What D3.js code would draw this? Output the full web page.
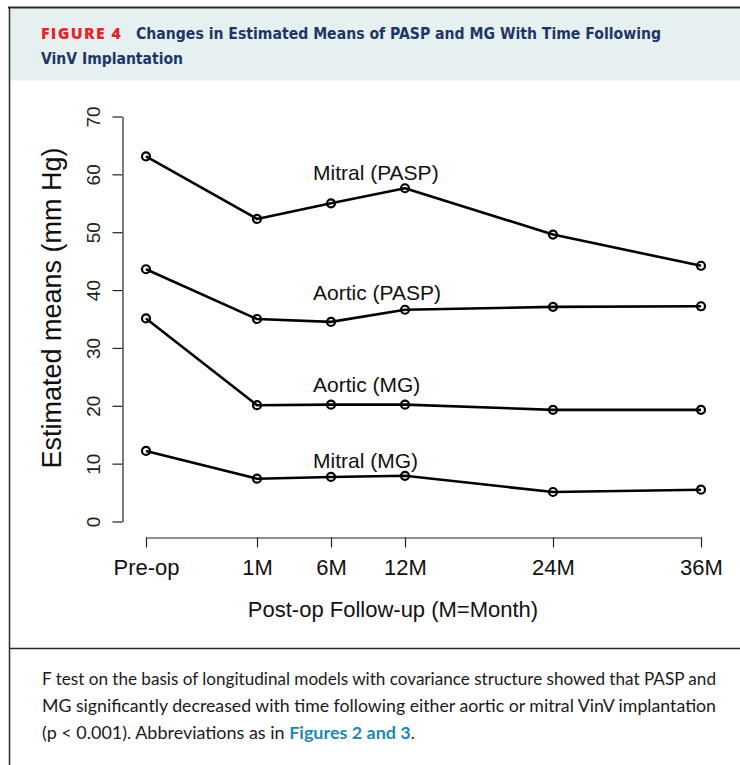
<!DOCTYPE html>
<html><head><meta charset="utf-8">
<script src="https://cdn.jsdelivr.net/npm/d3@7"></script>
<style>body{margin:0;background:#fff}</style>
</head><body><svg id="c" width="740" height="765"></svg>
<script>
// ---- data ----
const timeLabels = ["Pre-op", "1M", "6M", "12M", "24M", "36M"];
const timeUnits = [0, 1.5, 2.5, 3.5, 5.5, 7.5];
const mitralPASP = [63.1, 52.3, 55.0, 57.6, 49.6, 44.2];
const aorticPASP = [43.6, 35.0, 34.5, 36.6, 37.1, 37.2];
const aorticMG = [35.1, 20.1, 20.2, 20.2, 19.3, 19.3];
const mitralMG = [12.2, 7.4, 7.7, 7.9, 5.1, 5.5];
const seriesNames = ["Mitral (PASP)", "Aortic (PASP)", "Aortic (MG)", "Mitral (MG)"];
const seriesLabelValue = [60.4, 39.5, 23.6, 10.5];
const yTicks = [0, 10, 20, 30, 40, 50, 60, 70];
const figureTag = "FIGURE 4";
const titleLines = ["Changes in Estimated Means of PASP and MG With Time Following", "VinV Implantation"];
const yTitle = "Estimated means (mm Hg)";
const xTitle = "Post-op Follow-up (M=Month)";
const captionLines = [
  "F test on the basis of longitudinal models with covariance structure showed that PASP and",
  "MG significantly decreased with time following either aortic or mitral VinV implantation"
];
const captionLast = ["(p < 0.001). Abbreviations as in ", "Figures 2 and 3", "."];

const series = [mitralPASP, aorticPASP, aorticMG, mitralMG];

const svg = d3.select("#c");

// ---- frame ----
svg.append("rect").attr("x", 10).attr("y", 8.5).attr("width", 730).attr("height", 72).attr("fill", "#e7f0f0");
svg.append("line").attr("x1", 8).attr("x2", 740).attr("y1", 7.5).attr("y2", 7.5).attr("stroke", "#2a2a2a").attr("stroke-width", 2);
svg.append("line").attr("x1", 9.5).attr("x2", 9.5).attr("y1", 7).attr("y2", 765).attr("stroke", "#2a2a2a").attr("stroke-width", 1.5);
svg.append("line").attr("x1", 9).attr("x2", 740).attr("y1", 648.5).attr("y2", 648.5).attr("stroke", "#2a2a2a").attr("stroke-width", 1.5);

// header
svg.append("text").attr("x", 41).attr("y", 39).text(figureTag)
  .attr("font-family", "'Open Sans', Lato, sans-serif").attr("font-weight", 800).attr("font-size", 15)
  .attr("letter-spacing", 1.3).attr("fill", "#e0282e")
  .attr("textLength", 81).attr("lengthAdjust", "spacingAndGlyphs");
svg.append("text").attr("x", 136).attr("y", 39).text(titleLines[0])
  .attr("font-family", "'Liberation Sans Narrow', 'DejaVu Sans Condensed', 'Open Sans', sans-serif").attr("font-weight", 700).attr("font-size", 16)
  .attr("fill", "#1b3766").attr("textLength", 525).attr("lengthAdjust", "spacingAndGlyphs");
svg.append("text").attr("x", 41).attr("y", 64).text(titleLines[1])
  .attr("font-family", "'Liberation Sans Narrow', 'DejaVu Sans Condensed', 'Open Sans', sans-serif").attr("font-weight", 700).attr("font-size", 16)
  .attr("fill", "#1b3766").attr("textLength", 142).attr("lengthAdjust", "spacingAndGlyphs");

// ---- scales ----
const x = d3.scaleLinear().domain([0, 7.5]).range([146, 701]);
const y = d3.scaleLinear().domain([0, 70]).range([521.5, 116.5]);
const chartFont = "'Liberation Sans', Arial, Helvetica, sans-serif";

// y axis
const gy = svg.append("g").attr("transform", "translate(122.5,0)")
  .call(d3.axisLeft(y).tickValues(yTicks).tickSize(10).tickSizeOuter(0).tickFormat(d3.format("d")));
gy.select(".domain").attr("stroke", "#222").attr("stroke-width", 1.2);
gy.selectAll(".tick line").attr("stroke", "#222").attr("stroke-width", 1.2);
gy.selectAll(".tick text")
  .attr("transform", "rotate(-90)").attr("x", 0).attr("y", -23).attr("dy", 0)
  .attr("text-anchor", "middle").attr("font-family", chartFont).attr("font-size", 19).attr("fill", "#222");

// x axis
const gx = svg.append("g").attr("transform", "translate(0,537.5)")
  .call(d3.axisBottom(x).tickValues(timeUnits).tickSize(10).tickSizeOuter(0)
    .tickFormat((d, i) => timeLabels[i]));
gx.select(".domain").attr("stroke", "#222").attr("stroke-width", 1.2);
gx.selectAll(".tick line").attr("stroke", "#222").attr("stroke-width", 1.2);
gx.selectAll(".tick text").attr("y", 37).attr("dy", 0)
  .attr("font-family", chartFont).attr("font-size", 22).attr("fill", "#111");

// axis titles
svg.append("text").attr("transform", "translate(61,308) rotate(-90)")
  .attr("text-anchor", "middle").attr("font-family", chartFont).attr("font-size", 27).attr("fill", "#111").text(yTitle);
svg.append("text").attr("x", 393).attr("y", 617).attr("text-anchor", "middle")
  .attr("font-family", chartFont).attr("font-size", 22).attr("fill", "#111").text(xTitle);

// ---- series ----
const line = d3.line().x((d, i) => x(timeUnits[i])).y(d => y(d));
series.forEach((vals, k) => {
  svg.append("path").datum(vals).attr("d", line)
    .attr("fill", "none").attr("stroke", "#000").attr("stroke-width", 2.6).attr("stroke-linejoin", "round");
  svg.append("g").selectAll("circle").data(vals).join("circle")
    .attr("cx", (d, i) => x(timeUnits[i])).attr("cy", d => y(d)).attr("r", 4)
    .attr("fill", "none").attr("stroke", "#000").attr("stroke-width", 2.2);
  svg.append("text").attr("x", 313).attr("y", y(seriesLabelValue[k]) + 7.5)
    .attr("font-family", chartFont).attr("font-size", 21).attr("fill", "#111").text(seriesNames[k]);
});

// ---- caption ----
const capFont = "Lato, 'Open Sans', sans-serif";
captionLines.forEach((t, i) => {
  svg.append("text").attr("x", 42).attr("y", 685 + i * 27).text(t)
    .attr("font-family", capFont).attr("font-size", 17).attr("fill", "#1a1a1a")
    .attr("textLength", 674).attr("lengthAdjust", "spacingAndGlyphs");
});
const last = svg.append("text").attr("x", 42).attr("y", 739)
  .attr("font-family", capFont).attr("font-size", 17).attr("fill", "#1a1a1a")
  .attr("textLength", 373).attr("lengthAdjust", "spacingAndGlyphs");
last.append("tspan").text(captionLast[0]);
last.append("tspan").text(captionLast[1]).attr("font-weight", 700).attr("fill", "#1c88b6");
last.append("tspan").text(captionLast[2]);
</script></body></html>
